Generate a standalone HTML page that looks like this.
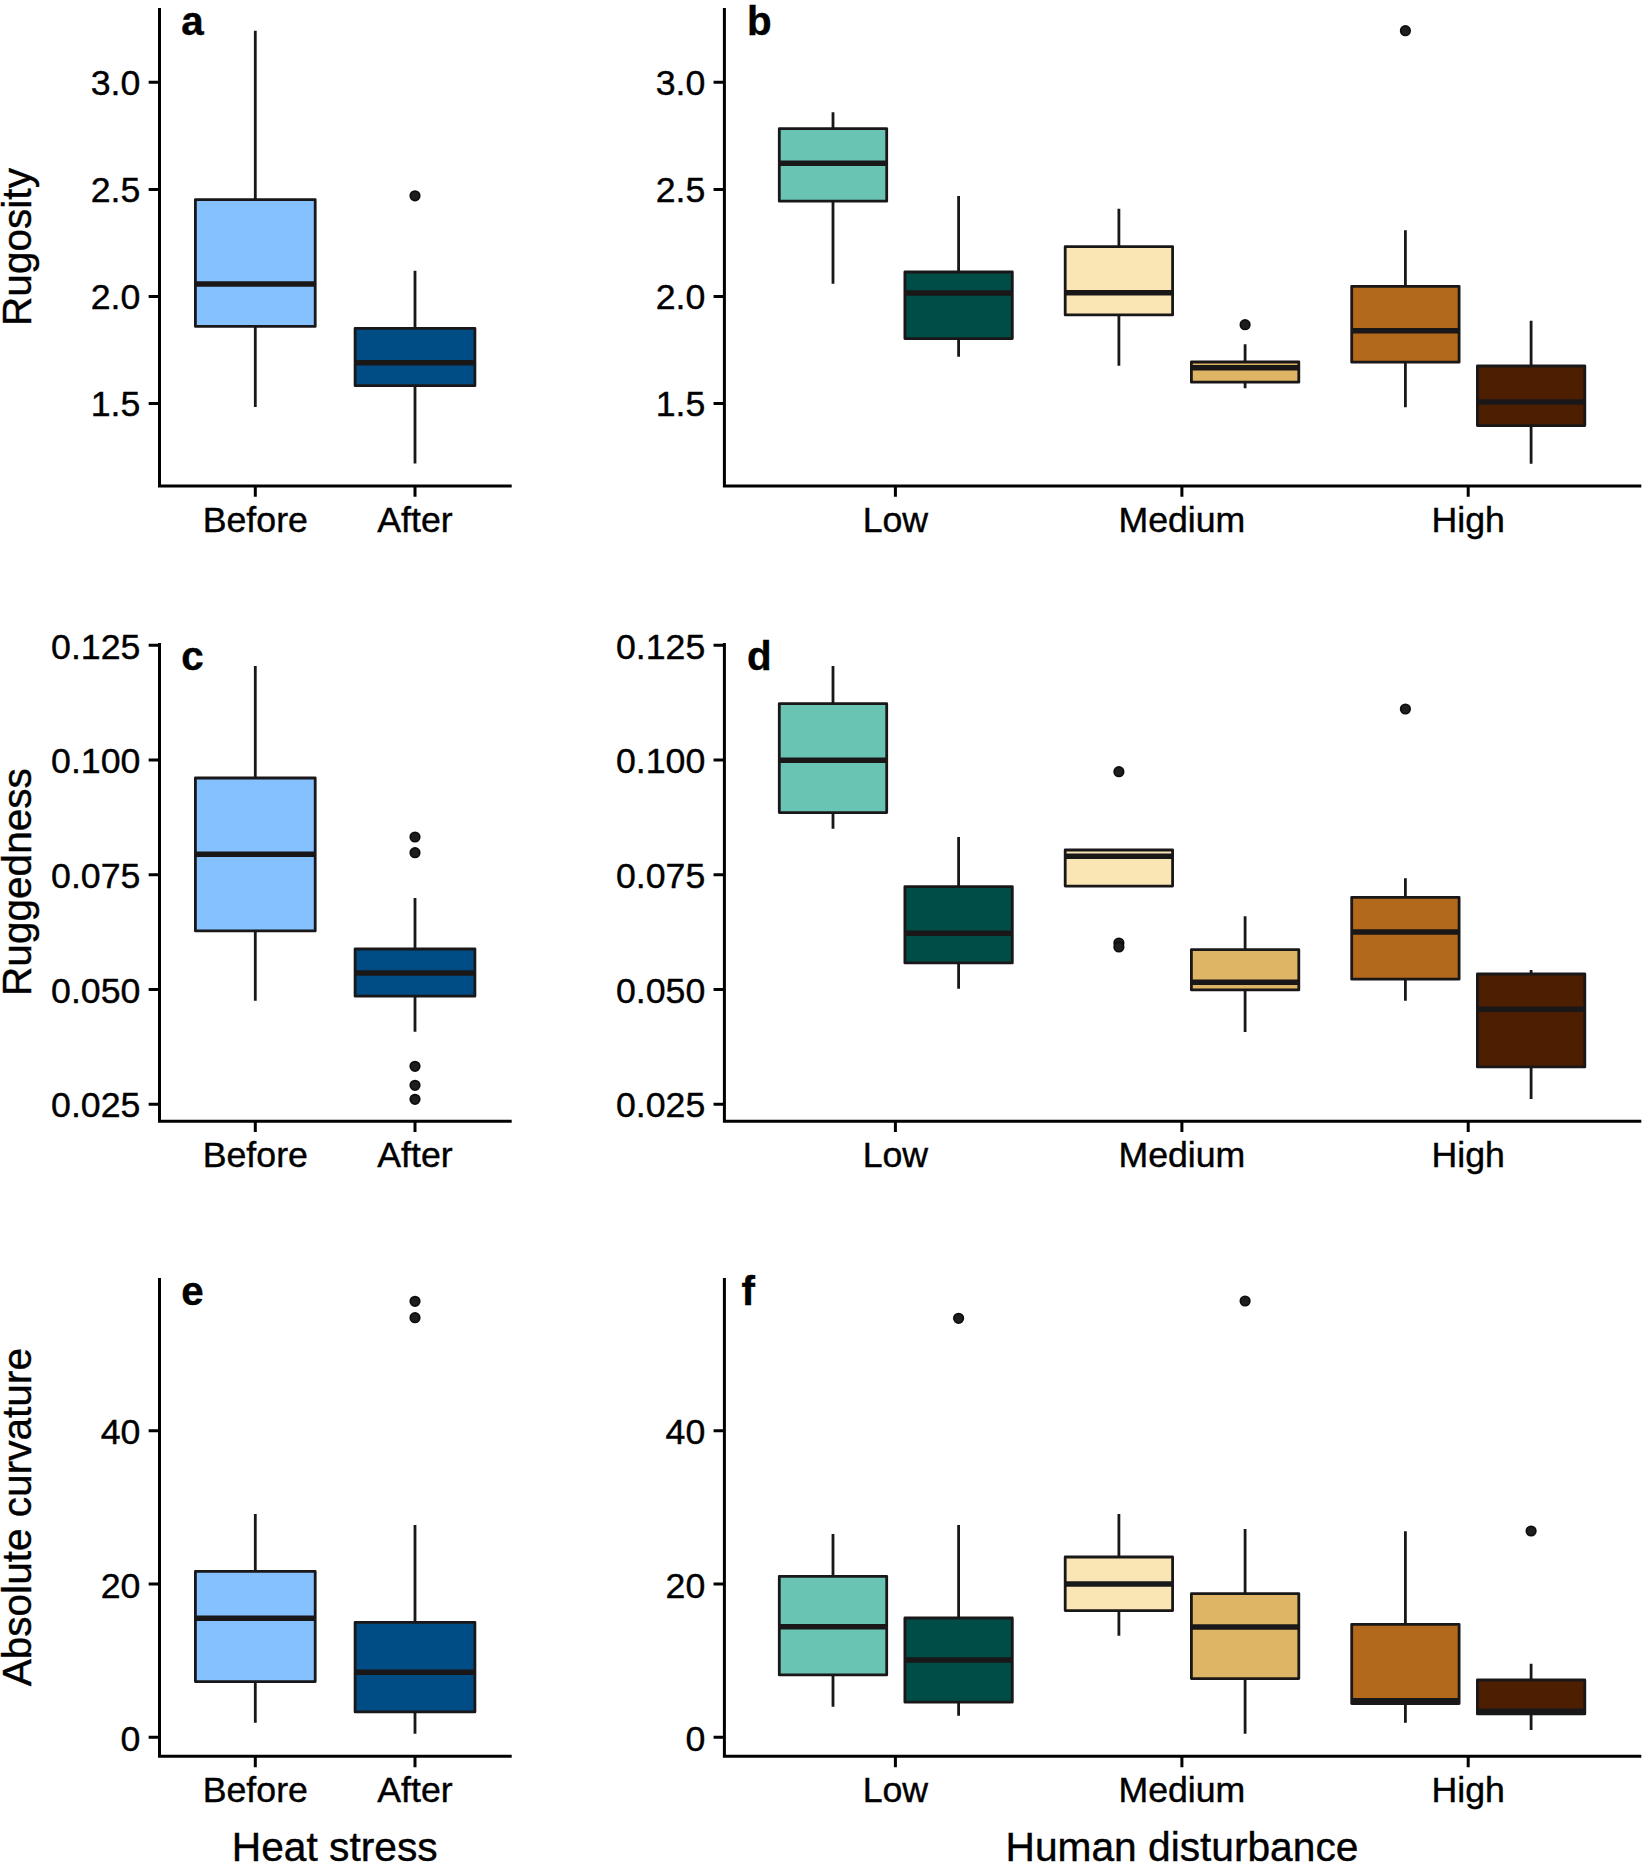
<!DOCTYPE html>
<html lang="en"><head><meta charset="utf-8"><title>Figure</title>
<style>html,body{margin:0;padding:0;background:#fff}svg{display:block}text{font-family:"Liberation Sans",Arial,Helvetica,sans-serif;fill:#000;stroke:#000;stroke-width:0.4px}</style></head><body>
<svg width="1644" height="1864" viewBox="0 0 1644 1864">
<rect width="1644" height="1864" fill="#fff"/>
<g id="panel-a">
<path d="M255.3 30.8V199.3M255.3 326.5V407" stroke="#1a1718" stroke-width="2.8" fill="none"/>
<rect x="195.4" y="199.6" width="119.8" height="126.8" fill="#85C1FF" stroke="#1a1718" stroke-width="2.8" stroke-linejoin="round"/>
<path d="M195.4 284H315.2" stroke="#1a1718" stroke-width="5.6"/>
<path d="M415 270.8V328M415 385.8V463.5" stroke="#1a1718" stroke-width="2.8" fill="none"/>
<rect x="355.1" y="328.3" width="119.8" height="57.4" fill="#004C84" stroke="#1a1718" stroke-width="2.8" stroke-linejoin="round"/>
<path d="M355.1 362.8H474.9" stroke="#1a1718" stroke-width="5.6"/>
<circle cx="415" cy="195.8" r="4.75" fill="#1e1e1e" stroke="#0c0c0c" stroke-width="1.7"/>
<path d="M159.5 8V486H511.7" stroke="#000" stroke-width="3.0" fill="none" stroke-linejoin="miter"/>
<path d="M148.65 82.3H159.5M148.65 189.4H159.5M148.65 296.4H159.5M148.65 403.5H159.5M255.3 486V496.85M415 486V496.85" stroke="#000" stroke-width="3.0" fill="none"/>
<text x="140.4" y="95" font-size="35.7" text-anchor="end">3.0</text>
<text x="140.4" y="202.1" font-size="35.7" text-anchor="end">2.5</text>
<text x="140.4" y="309.1" font-size="35.7" text-anchor="end">2.0</text>
<text x="140.4" y="416.2" font-size="35.7" text-anchor="end">1.5</text>
<text x="255.3" y="531.6" font-size="35.7" text-anchor="middle">Before</text>
<text x="415" y="531.6" font-size="35.7" text-anchor="middle">After</text>
<text x="181.2" y="35.3" font-size="40.3" font-weight="bold">a</text>
<text transform="translate(30.5 247) rotate(-90)" font-size="40.6" text-anchor="middle">Rugosity</text>
</g>
<g id="panel-b">
<path d="M833 112.3V128.3M833 201.3V283.7" stroke="#1a1718" stroke-width="2.8" fill="none"/>
<rect x="779.3" y="128.6" width="107.4" height="72.6" fill="#69C4B4" stroke="#1a1718" stroke-width="2.8" stroke-linejoin="round"/>
<path d="M779.3 163.3H886.7" stroke="#1a1718" stroke-width="5.6"/>
<path d="M958.6 196V271.7M958.6 338.7V356.7" stroke="#1a1718" stroke-width="2.8" fill="none"/>
<rect x="904.9" y="272" width="107.4" height="66.6" fill="#004D47" stroke="#1a1718" stroke-width="2.8" stroke-linejoin="round"/>
<path d="M904.9 293H1012.3" stroke="#1a1718" stroke-width="5.6"/>
<path d="M1118.9 208.7V246.3M1118.9 315V365.7" stroke="#1a1718" stroke-width="2.8" fill="none"/>
<rect x="1065.2" y="246.6" width="107.4" height="68.3" fill="#FAE6B4" stroke="#1a1718" stroke-width="2.8" stroke-linejoin="round"/>
<path d="M1065.2 292.7H1172.6" stroke="#1a1718" stroke-width="5.6"/>
<path d="M1245.1 344.3V361.7M1245.1 382.3V388.3" stroke="#1a1718" stroke-width="2.8" fill="none"/>
<rect x="1191.4" y="362" width="107.4" height="20.2" fill="#DEB564" stroke="#1a1718" stroke-width="2.8" stroke-linejoin="round"/>
<path d="M1191.4 367.7H1298.8" stroke="#1a1718" stroke-width="5.6"/>
<circle cx="1245.1" cy="324.7" r="4.75" fill="#1e1e1e" stroke="#0c0c0c" stroke-width="1.7"/>
<path d="M1405.4 230.3V286M1405.4 362.3V407.3" stroke="#1a1718" stroke-width="2.8" fill="none"/>
<rect x="1351.7" y="286.3" width="107.4" height="75.9" fill="#B2691C" stroke="#1a1718" stroke-width="2.8" stroke-linejoin="round"/>
<path d="M1351.7 330.7H1459.1" stroke="#1a1718" stroke-width="5.6"/>
<circle cx="1405.4" cy="30.7" r="4.75" fill="#1e1e1e" stroke="#0c0c0c" stroke-width="1.7"/>
<path d="M1531.1 320.7V365.7M1531.1 425.7V463.7" stroke="#1a1718" stroke-width="2.8" fill="none"/>
<rect x="1477.4" y="366" width="107.4" height="59.6" fill="#4D1E00" stroke="#1a1718" stroke-width="2.8" stroke-linejoin="round"/>
<path d="M1477.4 402H1584.8" stroke="#1a1718" stroke-width="5.6"/>
<path d="M724.4 8V486H1641.3" stroke="#000" stroke-width="3.0" fill="none" stroke-linejoin="miter"/>
<path d="M713.55 82.3H724.4M713.55 189.4H724.4M713.55 296.4H724.4M713.55 403.5H724.4M895.4 486V496.85M1181.9 486V496.85M1468.2 486V496.85" stroke="#000" stroke-width="3.0" fill="none"/>
<text x="705.3" y="95" font-size="35.7" text-anchor="end">3.0</text>
<text x="705.3" y="202.1" font-size="35.7" text-anchor="end">2.5</text>
<text x="705.3" y="309.1" font-size="35.7" text-anchor="end">2.0</text>
<text x="705.3" y="416.2" font-size="35.7" text-anchor="end">1.5</text>
<text x="895.4" y="531.6" font-size="35.7" text-anchor="middle">Low</text>
<text x="1181.9" y="531.6" font-size="35.7" text-anchor="middle">Medium</text>
<text x="1468.2" y="531.6" font-size="35.7" text-anchor="middle">High</text>
<text x="746.9" y="35" font-size="40.3" font-weight="bold">b</text>
</g>
<g id="panel-c">
<path d="M255.3 666V777.7M255.3 931V1000.7" stroke="#1a1718" stroke-width="2.8" fill="none"/>
<rect x="195.4" y="778" width="119.8" height="152.9" fill="#85C1FF" stroke="#1a1718" stroke-width="2.8" stroke-linejoin="round"/>
<path d="M195.4 854.3H315.2" stroke="#1a1718" stroke-width="5.6"/>
<path d="M415 898V948.7M415 996.3V1031.7" stroke="#1a1718" stroke-width="2.8" fill="none"/>
<rect x="355.1" y="949" width="119.8" height="47.2" fill="#004C84" stroke="#1a1718" stroke-width="2.8" stroke-linejoin="round"/>
<path d="M355.1 973H474.9" stroke="#1a1718" stroke-width="5.6"/>
<circle cx="415" cy="837" r="4.75" fill="#1e1e1e" stroke="#0c0c0c" stroke-width="1.7"/>
<circle cx="415" cy="852.7" r="4.75" fill="#1e1e1e" stroke="#0c0c0c" stroke-width="1.7"/>
<circle cx="415" cy="1066.3" r="4.75" fill="#1e1e1e" stroke="#0c0c0c" stroke-width="1.7"/>
<circle cx="415" cy="1085.3" r="4.75" fill="#1e1e1e" stroke="#0c0c0c" stroke-width="1.7"/>
<circle cx="415" cy="1099.3" r="4.75" fill="#1e1e1e" stroke="#0c0c0c" stroke-width="1.7"/>
<path d="M159.5 642.9V1121.2H511.7" stroke="#000" stroke-width="3.0" fill="none" stroke-linejoin="miter"/>
<path d="M148.65 645.3H159.5M148.65 760H159.5M148.65 874.75H159.5M148.65 989.5H159.5M148.65 1104.2H159.5M255.3 1121.2V1132.05M415 1121.2V1132.05" stroke="#000" stroke-width="3.0" fill="none"/>
<text x="140.4" y="658.5" font-size="35.7" text-anchor="end">0.125</text>
<text x="140.4" y="773.2" font-size="35.7" text-anchor="end">0.100</text>
<text x="140.4" y="887.95" font-size="35.7" text-anchor="end">0.075</text>
<text x="140.4" y="1002.7" font-size="35.7" text-anchor="end">0.050</text>
<text x="140.4" y="1117.4" font-size="35.7" text-anchor="end">0.025</text>
<text x="255.3" y="1166.8" font-size="35.7" text-anchor="middle">Before</text>
<text x="415" y="1166.8" font-size="35.7" text-anchor="middle">After</text>
<text x="181.2" y="670.4" font-size="40.3" font-weight="bold">c</text>
<text transform="translate(30.5 882.05) rotate(-90)" font-size="40.6" text-anchor="middle">Ruggedness</text>
</g>
<g id="panel-d">
<path d="M833 666V703.3M833 812.7V828.7" stroke="#1a1718" stroke-width="2.8" fill="none"/>
<rect x="779.3" y="703.6" width="107.4" height="109" fill="#69C4B4" stroke="#1a1718" stroke-width="2.8" stroke-linejoin="round"/>
<path d="M779.3 760.3H886.7" stroke="#1a1718" stroke-width="5.6"/>
<path d="M958.6 837V886.3M958.6 963V988.7" stroke="#1a1718" stroke-width="2.8" fill="none"/>
<rect x="904.9" y="886.6" width="107.4" height="76.3" fill="#004D47" stroke="#1a1718" stroke-width="2.8" stroke-linejoin="round"/>
<path d="M904.9 933.3H1012.3" stroke="#1a1718" stroke-width="5.6"/>
<rect x="1065.2" y="850" width="107.4" height="36.1" fill="#FAE6B4" stroke="#1a1718" stroke-width="2.8" stroke-linejoin="round"/>
<path d="M1065.2 856.3H1172.6" stroke="#1a1718" stroke-width="5.6"/>
<circle cx="1118.9" cy="771.7" r="4.75" fill="#1e1e1e" stroke="#0c0c0c" stroke-width="1.7"/>
<circle cx="1118.9" cy="943" r="4.75" fill="#1e1e1e" stroke="#0c0c0c" stroke-width="1.7"/>
<circle cx="1118.9" cy="947" r="4.75" fill="#1e1e1e" stroke="#0c0c0c" stroke-width="1.7"/>
<path d="M1245.1 916.3V949.3M1245.1 990V1032" stroke="#1a1718" stroke-width="2.8" fill="none"/>
<rect x="1191.4" y="949.6" width="107.4" height="40.3" fill="#DEB564" stroke="#1a1718" stroke-width="2.8" stroke-linejoin="round"/>
<path d="M1191.4 982.3H1298.8" stroke="#1a1718" stroke-width="5.6"/>
<path d="M1405.4 878.3V897M1405.4 979.3V1000.7" stroke="#1a1718" stroke-width="2.8" fill="none"/>
<rect x="1351.7" y="897.3" width="107.4" height="81.9" fill="#B2691C" stroke="#1a1718" stroke-width="2.8" stroke-linejoin="round"/>
<path d="M1351.7 932H1459.1" stroke="#1a1718" stroke-width="5.6"/>
<circle cx="1405.4" cy="709" r="4.75" fill="#1e1e1e" stroke="#0c0c0c" stroke-width="1.7"/>
<path d="M1531.1 970V973.7M1531.1 1067V1099" stroke="#1a1718" stroke-width="2.8" fill="none"/>
<rect x="1477.4" y="974" width="107.4" height="92.9" fill="#4D1E00" stroke="#1a1718" stroke-width="2.8" stroke-linejoin="round"/>
<path d="M1477.4 1009.3H1584.8" stroke="#1a1718" stroke-width="5.6"/>
<path d="M724.4 642.9V1121.2H1641.3" stroke="#000" stroke-width="3.0" fill="none" stroke-linejoin="miter"/>
<path d="M713.55 645.3H724.4M713.55 760H724.4M713.55 874.75H724.4M713.55 989.5H724.4M713.55 1104.2H724.4M895.4 1121.2V1132.05M1181.9 1121.2V1132.05M1468.2 1121.2V1132.05" stroke="#000" stroke-width="3.0" fill="none"/>
<text x="705.3" y="658.5" font-size="35.7" text-anchor="end">0.125</text>
<text x="705.3" y="773.2" font-size="35.7" text-anchor="end">0.100</text>
<text x="705.3" y="887.95" font-size="35.7" text-anchor="end">0.075</text>
<text x="705.3" y="1002.7" font-size="35.7" text-anchor="end">0.050</text>
<text x="705.3" y="1117.4" font-size="35.7" text-anchor="end">0.025</text>
<text x="895.4" y="1166.8" font-size="35.7" text-anchor="middle">Low</text>
<text x="1181.9" y="1166.8" font-size="35.7" text-anchor="middle">Medium</text>
<text x="1468.2" y="1166.8" font-size="35.7" text-anchor="middle">High</text>
<text x="746.9" y="670.4" font-size="40.3" font-weight="bold">d</text>
</g>
<g id="panel-e">
<path d="M255.3 1514V1571M255.3 1681.7V1722.7" stroke="#1a1718" stroke-width="2.8" fill="none"/>
<rect x="195.4" y="1571.3" width="119.8" height="110.3" fill="#85C1FF" stroke="#1a1718" stroke-width="2.8" stroke-linejoin="round"/>
<path d="M195.4 1618.3H315.2" stroke="#1a1718" stroke-width="5.6"/>
<path d="M415 1525V1622M415 1712V1733.7" stroke="#1a1718" stroke-width="2.8" fill="none"/>
<rect x="355.1" y="1622.3" width="119.8" height="89.6" fill="#004C84" stroke="#1a1718" stroke-width="2.8" stroke-linejoin="round"/>
<path d="M355.1 1672.3H474.9" stroke="#1a1718" stroke-width="5.6"/>
<circle cx="415" cy="1301.3" r="4.75" fill="#1e1e1e" stroke="#0c0c0c" stroke-width="1.7"/>
<circle cx="415" cy="1317.7" r="4.75" fill="#1e1e1e" stroke="#0c0c0c" stroke-width="1.7"/>
<path d="M159.5 1278.1V1756.3H511.7" stroke="#000" stroke-width="3.0" fill="none" stroke-linejoin="miter"/>
<path d="M148.65 1430.8H159.5M148.65 1584H159.5M148.65 1737.2H159.5M255.3 1756.3V1767.15M415 1756.3V1767.15" stroke="#000" stroke-width="3.0" fill="none"/>
<text x="140.4" y="1444.3" font-size="35.7" text-anchor="end">40</text>
<text x="140.4" y="1597.5" font-size="35.7" text-anchor="end">20</text>
<text x="140.4" y="1750.7" font-size="35.7" text-anchor="end">0</text>
<text x="255.3" y="1801.9" font-size="35.7" text-anchor="middle">Before</text>
<text x="415" y="1801.9" font-size="35.7" text-anchor="middle">After</text>
<text x="181.2" y="1304.6" font-size="40.3" font-weight="bold">e</text>
<text transform="translate(30.5 1517.2) rotate(-90)" font-size="40.6" text-anchor="middle">Absolute curvature</text>
<text x="334.7" y="1860.8" font-size="40.7" text-anchor="middle">Heat stress</text>
</g>
<g id="panel-f">
<path d="M833 1534V1576M833 1675V1706.7" stroke="#1a1718" stroke-width="2.8" fill="none"/>
<rect x="779.3" y="1576.3" width="107.4" height="98.6" fill="#69C4B4" stroke="#1a1718" stroke-width="2.8" stroke-linejoin="round"/>
<path d="M779.3 1626.7H886.7" stroke="#1a1718" stroke-width="5.6"/>
<path d="M958.6 1525V1617.7M958.6 1702.3V1715.7" stroke="#1a1718" stroke-width="2.8" fill="none"/>
<rect x="904.9" y="1618" width="107.4" height="84.2" fill="#004D47" stroke="#1a1718" stroke-width="2.8" stroke-linejoin="round"/>
<path d="M904.9 1660H1012.3" stroke="#1a1718" stroke-width="5.6"/>
<circle cx="958.6" cy="1318.3" r="4.75" fill="#1e1e1e" stroke="#0c0c0c" stroke-width="1.7"/>
<path d="M1118.9 1514V1556.7M1118.9 1610.7V1635.7" stroke="#1a1718" stroke-width="2.8" fill="none"/>
<rect x="1065.2" y="1557" width="107.4" height="53.6" fill="#FAE6B4" stroke="#1a1718" stroke-width="2.8" stroke-linejoin="round"/>
<path d="M1065.2 1584H1172.6" stroke="#1a1718" stroke-width="5.6"/>
<path d="M1245.1 1529V1593.3M1245.1 1678.7V1733.7" stroke="#1a1718" stroke-width="2.8" fill="none"/>
<rect x="1191.4" y="1593.6" width="107.4" height="85" fill="#DEB564" stroke="#1a1718" stroke-width="2.8" stroke-linejoin="round"/>
<path d="M1191.4 1627H1298.8" stroke="#1a1718" stroke-width="5.6"/>
<circle cx="1245.1" cy="1301" r="4.75" fill="#1e1e1e" stroke="#0c0c0c" stroke-width="1.7"/>
<path d="M1405.4 1531.3V1624M1405.4 1703.7V1722.7" stroke="#1a1718" stroke-width="2.8" fill="none"/>
<rect x="1351.7" y="1624.3" width="107.4" height="79.3" fill="#B2691C" stroke="#1a1718" stroke-width="2.8" stroke-linejoin="round"/>
<path d="M1351.7 1700.7H1459.1" stroke="#1a1718" stroke-width="5.6"/>
<path d="M1531.1 1663.7V1679.7M1531.1 1714V1730" stroke="#1a1718" stroke-width="2.8" fill="none"/>
<rect x="1477.4" y="1680" width="107.4" height="33.9" fill="#4D1E00" stroke="#1a1718" stroke-width="2.8" stroke-linejoin="round"/>
<path d="M1477.4 1711.3H1584.8" stroke="#1a1718" stroke-width="5.6"/>
<circle cx="1531.1" cy="1531" r="4.75" fill="#1e1e1e" stroke="#0c0c0c" stroke-width="1.7"/>
<path d="M724.4 1278.1V1756.3H1641.3" stroke="#000" stroke-width="3.0" fill="none" stroke-linejoin="miter"/>
<path d="M713.55 1430.8H724.4M713.55 1584H724.4M713.55 1737.2H724.4M895.4 1756.3V1767.15M1181.9 1756.3V1767.15M1468.2 1756.3V1767.15" stroke="#000" stroke-width="3.0" fill="none"/>
<text x="705.3" y="1444.3" font-size="35.7" text-anchor="end">40</text>
<text x="705.3" y="1597.5" font-size="35.7" text-anchor="end">20</text>
<text x="705.3" y="1750.7" font-size="35.7" text-anchor="end">0</text>
<text x="895.4" y="1801.9" font-size="35.7" text-anchor="middle">Low</text>
<text x="1181.9" y="1801.9" font-size="35.7" text-anchor="middle">Medium</text>
<text x="1468.2" y="1801.9" font-size="35.7" text-anchor="middle">High</text>
<text x="741.6" y="1304.7" font-size="40.3" font-weight="bold">f</text>
<text x="1181.95" y="1860.8" font-size="40.7" text-anchor="middle">Human disturbance</text>
</g>
</svg></body></html>
